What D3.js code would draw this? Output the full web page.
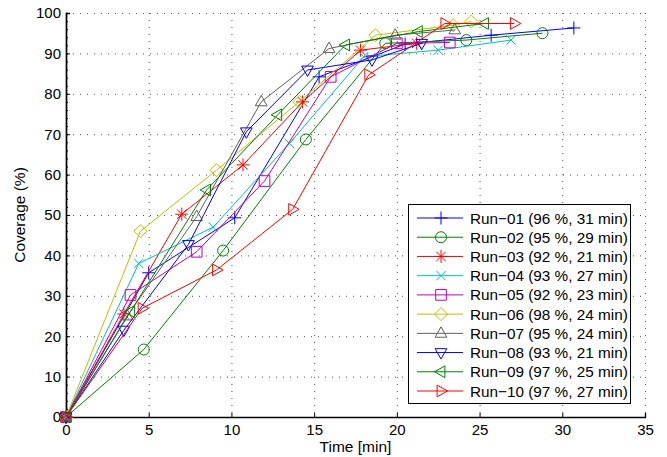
<!DOCTYPE html>
<html>
<head>
<meta charset="utf-8">
<script src="https://cdn.jsdelivr.net/npm/d3@7"></script>
<style>
  body { margin: 0; background: #fff; }
  text { font-family: "Liberation Sans", Arial, sans-serif; fill: #000; }
</style>
</head>
<body>
<div id="chart"></div>
<script>
// coverage runs
var runNames = ["Run\u221201 (96 %, 31 min)", "Run\u221202 (95 %, 29 min)", "Run\u221203 (92 %, 21 min)",
  "Run\u221204 (93 %, 27 min)", "Run\u221205 (92 %, 23 min)", "Run\u221206 (98 %, 24 min)",
  "Run\u221207 (95 %, 24 min)", "Run\u221208 (93 %, 21 min)", "Run\u221209 (97 %, 25 min)",
  "Run\u221210 (97 %, 27 min)"];

var run01 = [[0, 0], [5.0, 35.7], [10.2, 49.3], [15.3, 84.2], [20.5, 92.3], [25.7, 94.5], [30.7, 96.3]];
var run02 = [[0, 0], [4.7, 16.7], [9.5, 41.2], [14.5, 68.7], [19.3, 92.5], [24.2, 93.3], [28.8, 95.0]];
var run03 = [[0, 0], [3.5, 25.5], [7.0, 50.2], [10.7, 62.4], [14.3, 78.0], [17.8, 90.8], [21.2, 92.5]];
var run04 = [[0, 0], [4.4, 38.0], [8.9, 47.0], [13.5, 67.7], [18.0, 89.2], [22.5, 90.8], [26.9, 93.3]];
var run05 = [[0, 0], [3.9, 30.2], [7.9, 40.9], [12.0, 58.4], [16.0, 84.2], [20.0, 92.5], [23.2, 92.7]];
var run06 = [[0, 0], [4.5, 46.0], [9.1, 61.1], [14.1, 78.0], [18.7, 94.5], [23.4, 97.0], [24.5, 97.9]];
var run07 = [[0, 0], [3.7, 25.0], [7.9, 49.6], [11.8, 78.0], [15.9, 91.2], [19.9, 94.5], [23.5, 95.8]];
var run08 = [[0, 0], [3.5, 21.5], [7.4, 42.7], [10.9, 70.6], [14.6, 85.9], [18.5, 88.4], [21.5, 92.5]];
var run09 = [[0, 0], [3.9, 26.1], [8.5, 56.2], [12.8, 74.8], [16.9, 92.1], [21.3, 95.4], [25.3, 97.4]];
var run10 = [[0, 0], [4.6, 26.9], [9.1, 36.4], [13.7, 51.4], [18.3, 84.7], [22.9, 97.4], [27.1, 97.4]];

var runs = [run01, run02, run03, run04, run05, run06, run07, run08, run09, run10];
var colors = ["#0000ff", "#008000", "#ff0000", "#00bfbf", "#bf00bf", "#bfbf00", "#606060", "#0000ff", "#008000", "#ff0000"];
var markers = ["plus", "circle", "star", "cross", "square", "diamond", "triUp", "triDown", "triLeft", "triRight"];

var xTicks = [0, 5, 10, 15, 20, 25, 30, 35];
var yTicks = [0, 10, 20, 30, 40, 50, 60, 70, 80, 90, 100];

var svgWidth = 667, svgHeight = 457;
var margin = {top: 13, right: 22, bottom: 40, left: 66};
var width = svgWidth - margin.left - margin.right;
var height = svgHeight - margin.top - margin.bottom;

var svg = d3.select("#chart").append("svg")
  .attr("width", svgWidth)
  .attr("height", svgHeight);

var g = svg.append("g").attr("transform", `translate(${margin.left},${margin.top})`);

var x = d3.scaleLinear().domain([0, 35]).range([0, width]);
var y = d3.scaleLinear().domain([0, 100]).range([height, 0]);

// dotted grid
g.selectAll(".vgrid").data(xTicks.slice(1)).enter().append("line")
  .attr("x1", d => x(d) + 0.5).attr("x2", d => x(d) + 0.5)
  .attr("y1", 0).attr("y2", height)
  .attr("stroke", "#555").attr("stroke-width", 1).attr("stroke-dasharray", "1,6");
g.selectAll(".hgrid").data(yTicks.slice(1)).enter().append("line")
  .attr("x1", 0).attr("x2", width)
  .attr("y1", d => y(d) + 0.5).attr("y2", d => y(d) + 0.5)
  .attr("stroke", "#555").attr("stroke-width", 1).attr("stroke-dasharray", "1,6");

// axes
var xAxis = g.append("g")
  .attr("transform", `translate(0,${height})`)
  .call(d3.axisBottom(x).tickValues(xTicks).tickSize(-4).tickPadding(7));
var yAxis = g.append("g")
  .call(d3.axisLeft(y).tickValues(yTicks).tickSize(-4).tickPadding(5));
// minor ticks on the y axis
g.append("g")
  .call(d3.axisLeft(y).tickValues(d3.range(0, 101, 2)).tickSize(-2).tickFormat(""));

svg.selectAll(".domain").attr("stroke", "#000").attr("stroke-width", 1.4);
svg.selectAll(".tick line").attr("stroke", "#000");
svg.selectAll(".tick text").style("font-size", "15px")
  .style("font-family", "Liberation Sans, Arial, sans-serif");

// axis titles
svg.append("text")
  .attr("x", margin.left + x(17.5)).attr("y", 452)
  .attr("text-anchor", "middle").style("font-size", "15.5px")
  .text("Time [min]");
svg.append("text")
  .attr("transform", `translate(25,${margin.top + y(50)}) rotate(-90)`)
  .attr("text-anchor", "middle").style("font-size", "15.5px")
  .text("Coverage (%)");

// marker shapes, centred on 0,0
function markerPath(type, s) {
  switch (type) {
    case "plus": return `M${-s},0H${s}M0,${-s}V${s}`;
    case "cross": var c = s * 0.72; return `M${-c},${-c}L${c},${c}M${-c},${c}L${c},${-c}`;
    case "star": var k = s * 0.72; return `M${-s},0H${s}M0,${-s}V${s}M${-k},${-k}L${k},${k}M${-k},${k}L${k},${-k}`;
    case "circle": return d3.symbol(d3.symbolCircle, Math.PI * 5.5 * 5.5)();
    case "square": var q = s * 0.82; return `M${-q},${-q}H${q}V${q}H${-q}Z`;
    case "diamond": return `M0,${-s}L${s},0L0,${s}L${-s},0Z`;
    case "triUp": return `M0,${-s}L${s * 0.9},${s * 0.6}L${-s * 0.9},${s * 0.6}Z`;
    case "triDown": return `M0,${s}L${s * 0.9},${-s * 0.6}L${-s * 0.9},${-s * 0.6}Z`;
    case "triLeft": return `M${-s},0L${s * 0.6},${-s * 0.9}L${s * 0.6},${s * 0.9}Z`;
    case "triRight": return `M${s},0L${-s * 0.6},${-s * 0.9}L${-s * 0.6},${s * 0.9}Z`;
  }
}

var line = d3.line().x(d => x(d[0])).y(d => y(d[1]));

runs.forEach(function(run, i) {
  var sg = g.append("g");
  sg.append("path")
    .datum(run)
    .attr("d", line)
    .attr("fill", "none")
    .attr("stroke", colors[i])
    .attr("stroke-width", 1);
  sg.selectAll("path.mk").data(run).enter().append("path")
    .attr("class", "mk")
    .attr("transform", d => `translate(${x(d[0])},${y(d[1])})`)
    .attr("d", markerPath(markers[i], 6.5))
    .attr("fill", "none")
    .attr("stroke", colors[i])
    .attr("stroke-width", 1);
});

// legend
var legend = svg.append("g").attr("transform", "translate(408,204)");
legend.append("rect")
  .attr("x", 0.5).attr("y", 0.5)
  .attr("width", 222).attr("height", 199)
  .attr("fill", "#fff").attr("stroke", "#000").attr("stroke-width", 1);

var rowY = d3.scaleLinear().domain([0, 9]).range([14, 187]);
runNames.forEach(function(name, i) {
  var ry = rowY(i);
  legend.append("line")
    .attr("x1", 9).attr("x2", 55).attr("y1", ry).attr("y2", ry)
    .attr("stroke", colors[i]).attr("stroke-width", 1);
  legend.append("path")
    .attr("transform", `translate(33,${ry})`)
    .attr("d", markerPath(markers[i], 6.5))
    .attr("fill", "none").attr("stroke", colors[i]).attr("stroke-width", 1);
  legend.append("text")
    .attr("x", 62).attr("y", ry + 5.5)
    .style("font-size", "15.3px")
    .text(name);
});
</script>
</body>
</html>
